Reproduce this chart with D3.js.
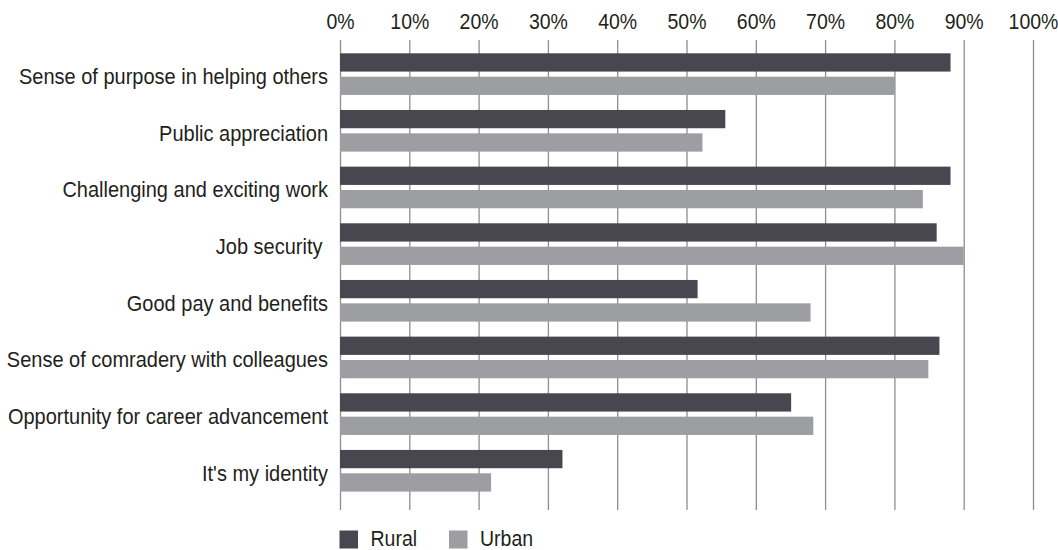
<!DOCTYPE html>
<html>
<head>
<meta charset="utf-8">
<script src="https://cdn.jsdelivr.net/npm/d3@7"></script>
<style>
  html, body { margin: 0; padding: 0; background: #fff; }
  svg { display: block; }
  text { font-family: "Liberation Sans", Arial, sans-serif; fill: #231f20; }
</style>
</head>
<body>
<svg id="chart" width="1058" height="550"></svg>
<script>
// Reasons for serving, share of respondents by area
const categories = [
  "Sense of purpose in helping others",
  "Public appreciation",
  "Challenging and exciting work",
  "Job security ",
  "Good pay and benefits",
  "Sense of comradery with colleagues",
  "Opportunity for career advancement",
  "It's my identity"
];
const seriesNames = ["Rural", "Urban"];
const rural = [0.881, 0.556, 0.881, 0.861, 0.516, 0.865, 0.651, 0.321];
const urban = [0.801, 0.523, 0.841, 0.900, 0.679, 0.849, 0.683, 0.218];
const tickValues = [0, 0.1, 0.2, 0.3, 0.4, 0.5, 0.6, 0.7, 0.8, 0.9, 1.0];
const colors = ["#48464f", "#9d9ea2"];

// Text is drawn slightly taller than wide
const stretch = 1.1;

const svg = d3.select("#chart");

const x = d3.scaleLinear().domain([0, 1]).range([340, 1033]);
const gridTop = 40, gridBottom = 510;

const y = d3.scaleBand()
  .domain(categories)
  .range([45.8, 499.1])
  .paddingInner(0.265)
  .paddingOuter(0.1325);

const ySeries = d3.scaleBand()
  .domain(seriesNames)
  .range([0, y.bandwidth()])
  .paddingInner(0.218);

// Top axis with full-height gridlines
const axis = d3.axisTop(x)
  .tickValues(tickValues)
  .tickFormat(d3.format(".0%"))
  .tickSize(-(gridBottom - gridTop))
  .tickPadding(10);

const gAxis = svg.append("g")
  .attr("transform", `translate(0,${gridTop})`)
  .call(axis);
gAxis.select(".domain").remove();
gAxis.selectAll(".tick line")
  .attr("stroke", "#8e8e8e")
  .attr("stroke-width", 1.3);
gAxis.selectAll(".tick text")
  .attr("font-size", 19.5)
  .attr("fill", "#231f20")
  .attr("transform", `scale(1,${stretch})`)
  .style("font-family", "'Liberation Sans', Arial, sans-serif");

// Bars
const rows = categories.map((c, i) => ({ cat: c, values: [rural[i], urban[i]] }));
const groups = svg.append("g").selectAll("g")
  .data(rows)
  .join("g")
  .attr("transform", d => `translate(0,${y(d.cat)})`);

groups.selectAll("rect")
  .data(d => d.values.map((v, j) => ({ series: seriesNames[j], value: v, j })))
  .join("rect")
  .attr("x", x(0))
  .attr("y", d => ySeries(d.series))
  .attr("width", d => x(d.value) - x(0))
  .attr("height", ySeries.bandwidth())
  .attr("fill", d => colors[d.j]);

// Category labels
svg.append("g").selectAll("text")
  .data(categories)
  .join("text")
  .attr("transform", d => `translate(328,${y(d) + y.bandwidth() / 2 + 10}) scale(1,${stretch})`)
  .attr("text-anchor", "end")
  .attr("font-size", 20)
  .style("white-space", "pre")
  .attr("xml:space", "preserve")
  .text(d => d);

// Legend
const legendX = [339.5, 449];
const legend = svg.append("g").selectAll("g")
  .data(seriesNames)
  .join("g")
  .attr("transform", (d, i) => `translate(${legendX[i]},530.5)`);
legend.append("rect")
  .attr("width", 18.5)
  .attr("height", 18)
  .attr("fill", (d, i) => colors[i]);
legend.append("text")
  .attr("transform", `translate(31,15) scale(1,${stretch})`)
  .attr("font-size", 19.5)
  .text(d => d);
</script>
</body>
</html>
